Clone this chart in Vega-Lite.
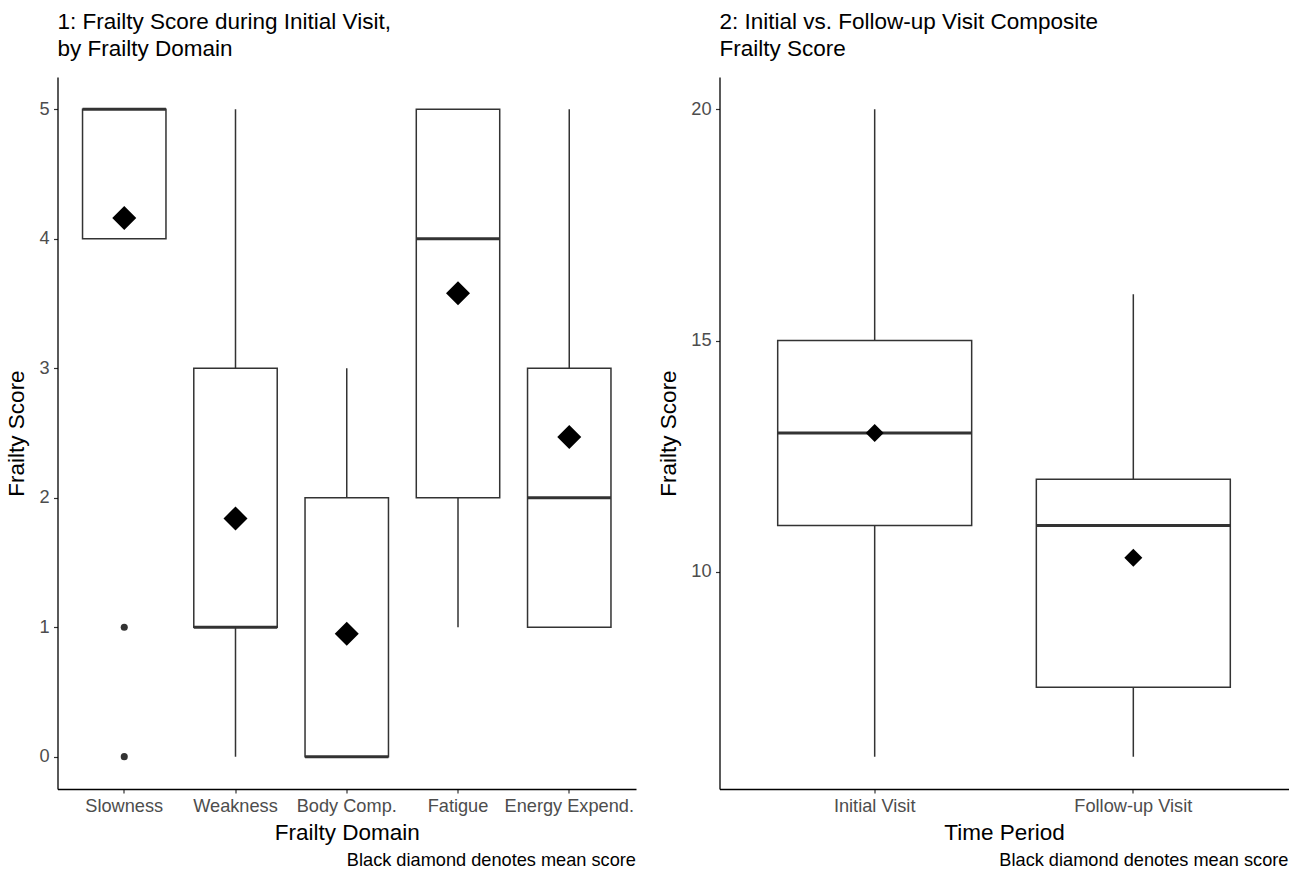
{
  "$schema": "https://vega.github.io/schema/vega-lite/v6.json",
  "padding": {"left": 5.5, "top": 10, "right": 10, "bottom": 2},
  "background": "white",
  "config": {
    "font": "Liberation Sans",
    "view": {"stroke": null},
    "axis": {"domainColor": "black", "domainWidth": 1.3, "tickColor": "#333333", "tickWidth": 1.2, "tickSize": 4, "grid": false, "labelColor": "#4d4d4d", "labelFontSize": 18.2, "titleFontSize": 22.5, "titleFontWeight": "normal", "titleColor": "black", "labelPadding": 4, "titlePadding": 7},
    "axisY": {"labelPadding": 4.5, "titlePadding": 10},
    "title": {"fontSize": 22.5, "fontWeight": "normal", "color": "black", "anchor": "start", "frame": "group"},
    "concat": {"spacing": 21}
  },
  "datasets": {
    "boxes1": [
      {"domain": "Slowness", "lower": 4, "q1": 4, "median": 5, "q3": 5, "upper": 5, "mean": 4.16},
      {"domain": "Weakness", "lower": 0, "q1": 1, "median": 1, "q3": 3, "upper": 5, "mean": 1.84},
      {"domain": "Body Comp.", "lower": 0, "q1": 0, "median": 0, "q3": 2, "upper": 3, "mean": 0.95},
      {"domain": "Fatigue", "lower": 1, "q1": 2, "median": 4, "q3": 5, "upper": 5, "mean": 3.58},
      {"domain": "Energy Expend.", "lower": 1, "q1": 1, "median": 2, "q3": 3, "upper": 5, "mean": 2.47}
    ],
    "outliers1": [
      {"domain": "Slowness", "value": 1},
      {"domain": "Slowness", "value": 0}
    ],
    "boxes2": [
      {"period": "Initial Visit", "lower": 6, "q1": 11, "median": 13, "q3": 15, "upper": 20, "mean": 13.0},
      {"period": "Follow-up Visit", "lower": 6, "q1": 7.5, "median": 11, "q3": 12, "upper": 16, "mean": 10.3}
    ]
  },
  "hconcat": [
    {
      "title": {"text": "Black diamond denotes mean score", "orient": "bottom", "anchor": "end", "fontSize": 18.2, "frame": "bounds", "offset": 8},
      "vconcat": [
        {
          "width": 578.5,
          "height": 712,
          "title": {"text": ["1: Frailty Score during Initial Visit,", "by Frailty Domain"], "lineHeight": 27, "offset": 17},
          "encoding": {
            "x": {"field": "domain", "type": "nominal", "sort": ["Slowness", "Weakness", "Body Comp.", "Fatigue", "Energy Expend."],
              "scale": {"type": "band", "domain": ["Slowness", "Weakness", "Body Comp.", "Fatigue", "Energy Expend."], "paddingInner": 0.25, "paddingOuter": 0.225},
              "axis": {"title": "Frailty Domain", "labelAngle": 0}}
          },
          "layer": [
            {
              "data": {"name": "boxes1"},
              "mark": {"type": "rule", "color": "#333333", "strokeWidth": 1.5},
              "encoding": {
                "y": {"field": "lower", "type": "quantitative", "scale": {"domain": [-0.25, 5.25], "nice": false, "zero": false}, "axis": {"values": [0, 1, 2, 3, 4, 5], "format": "d", "title": "Frailty Score"}},
                "y2": {"field": "upper"}
              }
            },
            {
              "data": {"name": "boxes1"},
              "mark": {"type": "bar", "fill": "white", "stroke": "#333333", "strokeWidth": 1.5},
              "encoding": {
                "y": {"field": "q1", "type": "quantitative"},
                "y2": {"field": "q3"}
              }
            },
            {
              "data": {"name": "boxes1"},
              "mark": {"type": "tick", "color": "#333333", "size": 83.4, "thickness": 3, "opacity": 1},
              "encoding": {
                "y": {"field": "median", "type": "quantitative"}
              }
            },
            {
              "data": {"name": "boxes1"},
              "mark": {"type": "point", "shape": "diamond", "filled": true, "color": "black", "size": 576, "opacity": 1},
              "encoding": {
                "y": {"field": "mean", "type": "quantitative"}
              }
            },
            {
              "data": {"name": "outliers1"},
              "mark": {"type": "point", "shape": "circle", "filled": true, "color": "#333333", "size": 50, "opacity": 1},
              "encoding": {
                "y": {"field": "value", "type": "quantitative"}
              }
            }
          ]
        }
      ]
    },
    {
      "title": {"text": "Black diamond denotes mean score", "orient": "bottom", "anchor": "end", "fontSize": 18.2, "frame": "bounds", "offset": 8},
      "vconcat": [
        {
          "width": 569,
          "height": 712,
          "title": {"text": ["2: Initial vs. Follow-up Visit Composite", "Frailty Score"], "lineHeight": 27, "offset": 17},
          "encoding": {
            "x": {"field": "period", "type": "nominal", "sort": ["Initial Visit", "Follow-up Visit"],
              "scale": {"type": "band", "domain": ["Initial Visit", "Follow-up Visit"], "paddingInner": 0.25, "paddingOuter": 0.225},
              "axis": {"title": "Time Period", "labelAngle": 0}}
          },
          "layer": [
            {
              "data": {"name": "boxes2"},
              "mark": {"type": "rule", "color": "#333333", "strokeWidth": 1.5},
              "encoding": {
                "y": {"field": "lower", "type": "quantitative", "scale": {"domain": [5.3, 20.7], "nice": false, "zero": false}, "axis": {"values": [10, 15, 20], "format": "d", "title": "Frailty Score"}},
                "y2": {"field": "upper"}
              }
            },
            {
              "data": {"name": "boxes2"},
              "mark": {"type": "bar", "fill": "white", "stroke": "#333333", "strokeWidth": 1.5},
              "encoding": {
                "y": {"field": "q1", "type": "quantitative"},
                "y2": {"field": "q3"}
              }
            },
            {
              "data": {"name": "boxes2"},
              "mark": {"type": "tick", "color": "#333333", "size": 194, "thickness": 3, "opacity": 1},
              "encoding": {
                "y": {"field": "median", "type": "quantitative"}
              }
            },
            {
              "data": {"name": "boxes2"},
              "mark": {"type": "point", "shape": "diamond", "filled": true, "color": "black", "size": 324, "opacity": 1},
              "encoding": {
                "y": {"field": "mean", "type": "quantitative"}
              }
            }
          ]
        }
      ]
    }
  ]
}
